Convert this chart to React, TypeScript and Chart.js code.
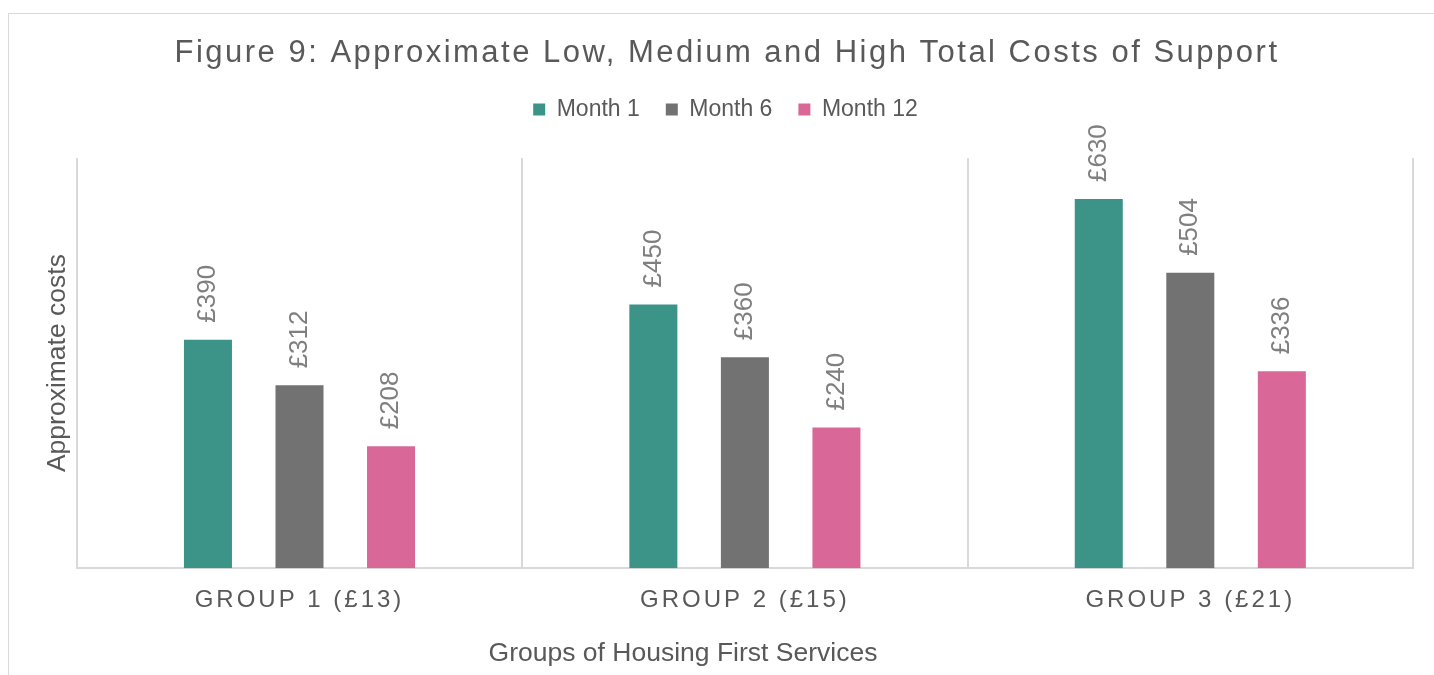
import React, { useEffect, useRef } from "react";
import { Chart, registerables, CategoryScale } from "chart.js";

Chart.register(...registerables);

const TITLE = "Figure 9: Approximate Low, Medium and High Total Costs of Support";
const X_TITLE = "Groups of Housing First Services";
const Y_TITLE = "Approximate costs";
const categories = ["GROUP 1 (£13)", "GROUP 2 (£15)", "GROUP 3 (£21)"];
const seriesNames = ["Month 1", "Month 6", "Month 12"];
const month1 = [390, 450, 630];
const month6 = [312, 360, 504];
const month12 = [208, 240, 336];
const seriesColors = ["#3c9387", "#727272", "#d96899"];
const Y_MAX = 700;

const FONT = "'Liberation Sans', Arial, sans-serif";
const TEXT = "#595959";
const LEGEND_EXTRA = 27;

class SpacedCategoryScale extends CategoryScale {
  static id = "spacedCategory";
  drawLabels(area: any) {
    const ctx: any = (this as any).ctx;
    ctx.save();
    ctx.letterSpacing = "3px";
    super.drawLabels(area);
    ctx.restore();
  }
}
Chart.register(SpacedCategoryScale as any);

const decorPlugin = {
  id: "decor",
  beforeLayout(chart: any) {
    const lg = chart.legend;
    if (lg && !lg._extraPatched) {
      const orig = lg.fit.bind(lg);
      lg.fit = function () {
        orig();
        this.height += LEGEND_EXTRA;
      };
      lg._extraPatched = true;
    }
  },
  beforeDraw(chart: any) {
    const ctx = chart.ctx;
    ctx.save();
    ctx.strokeStyle = "#d9d9d9";
    ctx.lineWidth = 1;
    ctx.strokeRect(8.5, 13.5, 1500, 800);
    ctx.restore();
  },
  afterDatasetsDraw(chart: any) {
    const ctx = chart.ctx;
    ctx.save();
    ctx.font = `26px ${FONT}`;
    ctx.fillStyle = "#7f7f7f";
    ctx.textAlign = "left";
    ctx.textBaseline = "middle";
    chart.data.datasets.forEach((ds: any, di: number) => {
      const meta = chart.getDatasetMeta(di);
      meta.data.forEach((bar: any, i: number) => {
        ctx.save();
        ctx.translate(bar.x, bar.y - 17);
        ctx.rotate(-Math.PI / 2);
        ctx.fillText("£" + ds.data[i], 0, 0);
        ctx.restore();
      });
    });
    ctx.restore();
  },
  afterDraw(chart: any) {
    const ctx = chart.ctx;
    ctx.save();
    ctx.fillStyle = TEXT;
    ctx.textAlign = "center";
    ctx.textBaseline = "middle";
    ctx.font = `31px ${FONT}`;
    ctx.letterSpacing = "2.5px";
    ctx.fillText(TITLE, 727, 53);
    ctx.letterSpacing = "0px";
    ctx.font = `26.5px ${FONT}`;
    ctx.fillText(X_TITLE, 683, 654);
    ctx.restore();
  },
};

export default function App() {
  const ref = useRef<HTMLCanvasElement>(null);
  useEffect(() => {
    if (!ref.current) return;
    const datasets = [month1, month6, month12].map((d, i) => ({
      label: seriesNames[i],
      data: d,
      backgroundColor: seriesColors[i],
      borderWidth: 0,
      categoryPercentage: 0.6166,
      barPercentage: 0.5246,
    }));
    const chart = new Chart(ref.current, {
      type: "bar",
      data: { labels: categories, datasets },
      options: {
        responsive: false,
        animation: false,
        layout: { padding: { top: 72, left: 38, right: 21, bottom: 42 } },
        plugins: {
          title: { display: false },
          tooltip: { enabled: false },
          legend: {
            position: "top",
            labels: {
              boxWidth: 12,
              boxHeight: 12,
              padding: 26,
              color: TEXT,
              font: { size: 23, family: FONT },
            },
          },
        },
        scales: {
          x: {
            type: "spacedCategory" as any,
            grid: { display: true, color: "#d9d9d9", lineWidth: 2, drawTicks: false, offset: true },
            border: { display: true, color: "#d9d9d9", width: 2 },
            ticks: { color: TEXT, padding: 18, font: { size: 24, family: FONT } },
          },
          y: {
            min: 0,
            max: Y_MAX,
            grid: { display: false, drawTicks: false },
            border: { display: false },
            ticks: { display: false },
            title: {
              display: true,
              text: Y_TITLE,
              color: TEXT,
              font: { size: 26.5, family: FONT },
              padding: { top: 4, bottom: 3 },
            },
          },
        },
      },
      plugins: [decorPlugin],
    });
    return () => chart.destroy();
  }, []);
  return (
    <div style={{ position: "absolute", left: 0, top: 0, width: 1434, height: 675 }}>
      <canvas ref={ref} width={1434} height={675} />
    </div>
  );
}
